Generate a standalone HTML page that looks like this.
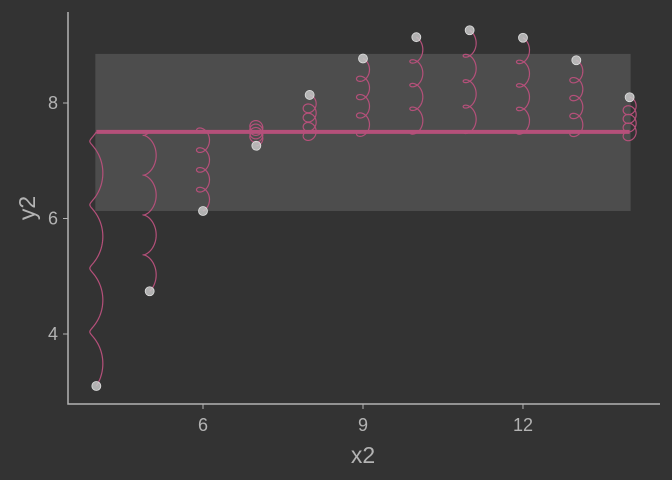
<!DOCTYPE html>
<html><head><meta charset="utf-8"><style>
body{margin:0;background:#333333;}
svg{display:block;font-family:"Liberation Sans",sans-serif;}
</style></head><body>
<svg id="chart" width="672" height="480">
<rect width="672" height="480" fill="#333333"/>
<g id="plot"></g>
</svg>
<script>
const xValues=[10,8,13,9,11,14,6,4,12,7,5];
const yValues=[9.14,8.14,8.74,8.77,9.26,8.10,6.13,3.10,9.13,7.26,4.74];
const meanY=7.50;
const bandLow=6.13, bandHigh=8.85;
const xTicks=[6,9,12];
const yTicks=[4,6,8];
const NS="http://www.w3.org/2000/svg";
const sx=v=>203+(v-6)*53.33;
const sy=v=>103+(8-v)*57.75;
const g=document.getElementById('plot');
function mk(t,a){const e=document.createElementNS(NS,t);for(const k in a)e.setAttribute(k,a[k]);g.appendChild(e);return e;}
const band=mk('rect',{x:sx(4)-1,y:sy(bandHigh),width:sx(14)-sx(4)+2,height:sy(bandLow)-sy(bandHigh),fill:'#4d4d4d'});


for(let i=0;i<xValues.length;i++){
  const cx=sx(xValues[i]),y0=sy(meanY),y1=sy(yValues[i]);
  const N=4,r=6.5,dir=y1<y0?-1:1;let d='';
  for(let k=0;k<=300;k++){const s=k/300,th=2*Math.PI*N*s;
    const X=cx-r*Math.sin(th);
    const Y=y0+(y1-y0)*s+dir*r*(1-Math.cos(th))*-1;
    d+=(k?'L':'M')+X.toFixed(2)+','+Y.toFixed(2);}
  const p=mk('path',{d:d,fill:'none',stroke:'#b5507a','stroke-width':1.2});
  
  
}
const ml=mk('line',{x1:sx(4),x2:sx(14),y1:sy(meanY),y2:sy(meanY),stroke:'#b5507a','stroke-width':4});


for(let i=0;i<xValues.length;i++){
  const c=mk('circle',{cx:sx(xValues[i]),cy:sy(yValues[i]),r:4.5,fill:'#c8c8c8',stroke:'#e0e0e0','stroke-width':0.8,'fill-opacity':0.85});
  
  
}
const ax=mk('path',{d:'M68,12V404H660',fill:'none',stroke:'#b3b3b3','stroke-width':1.5});


xTicks.forEach(t=>{mk('line',{x1:sx(t),x2:sx(t),y1:404,y2:409,stroke:'#b3b3b3'});
  const tx=mk('text',{x:sx(t),y:431,'text-anchor':'middle','font-size':18,fill:'#b3b3b3'});tx.textContent=t;
  
  });
yTicks.forEach(t=>{mk('line',{x1:63,x2:68,y1:sy(t),y2:sy(t),stroke:'#b3b3b3'});
  const tx=mk('text',{x:58,y:sy(t)+6,'text-anchor':'end','font-size':18,fill:'#b3b3b3'});tx.textContent=t;
  
  });
const xt=mk('text',{x:363,y:463,'text-anchor':'middle','font-size':23,fill:'#b3b3b3'});xt.textContent='x2';


const yt=mk('text',{x:35,y:208,'text-anchor':'middle','font-size':23,fill:'#b3b3b3',transform:'rotate(-90 35 208)'});yt.textContent='y2';


</script>
</body></html>
